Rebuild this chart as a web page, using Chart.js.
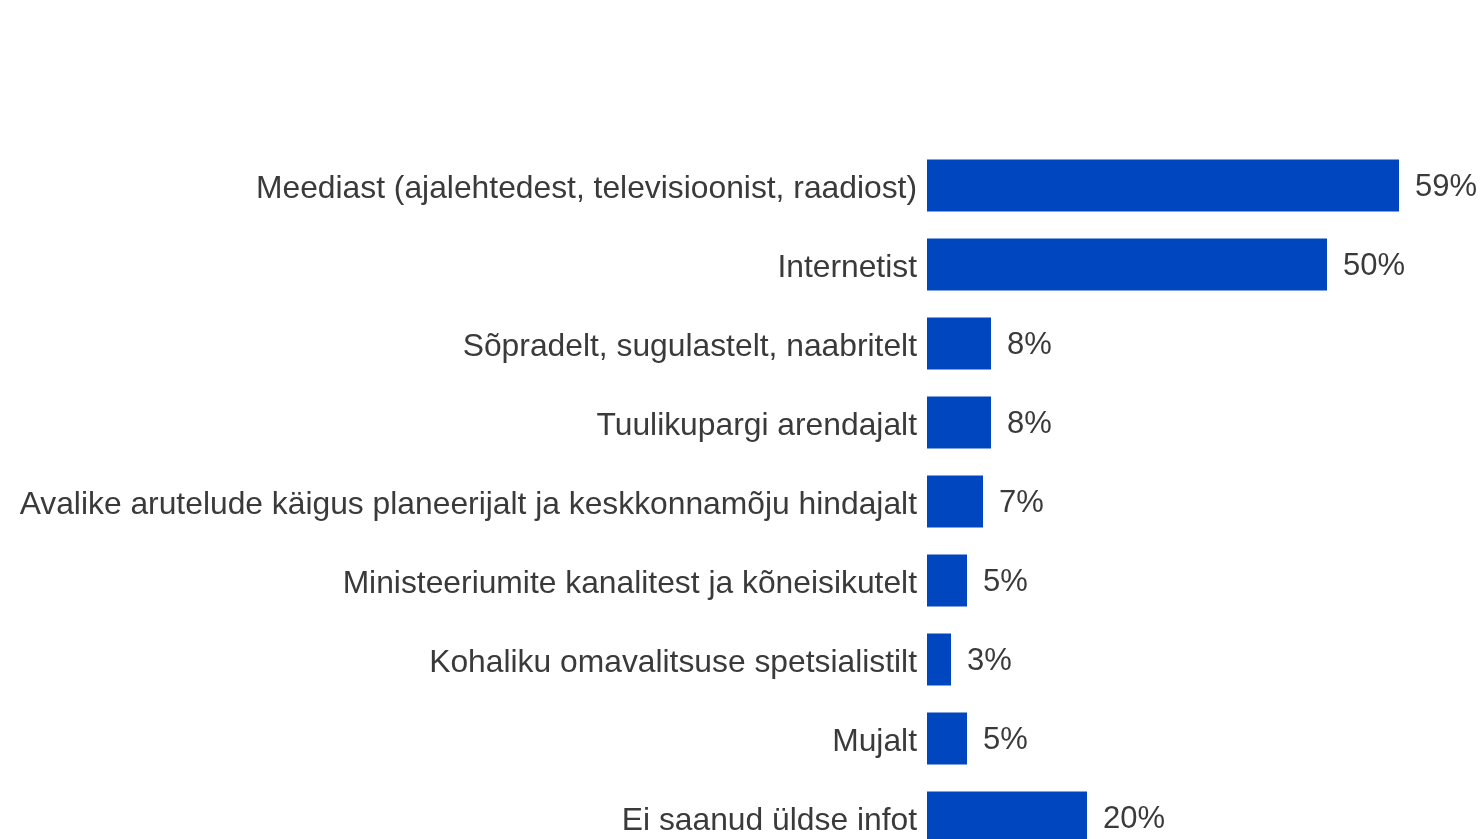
<!DOCTYPE html>
<html>
<head>
<meta charset="utf-8">
<script src="https://cdn.jsdelivr.net/npm/chart.js@4/dist/chart.umd.min.js"></script>
<style>
  html, body { margin: 0; padding: 0; background: #fff; overflow: hidden; }
  #wrap { position: absolute; left: 0; top: 0; width: 1484px; height: 880px; }
</style>
</head>
<body>
<div id="wrap"><canvas id="graficoInfoAllikad" width="1484" height="880"></canvas></div>
<script>
var kategooriad = [
	'Meediast (ajalehtedest, televisioonist, raadiost)',
	'Internetist',
	'Sõpradelt, sugulastelt, naabritelt',
	'Tuulikupargi arendajalt',
	'Avalike arutelude käigus planeerijalt ja keskkonnamõju hindajalt',
	'Ministeeriumite kanalitest ja kõneisikutelt',
	'Kohaliku omavalitsuse spetsialistilt',
	'Mujalt',
	'Ei saanud üldse infot'
];
var osakaalud = [59, 50, 8, 8, 7, 5, 3, 5, 20];

var FONT = '"Liberation Sans", Arial, sans-serif';
var TEKST = '#3a3a3a';

// kirjutab protsendi iga tulba lõppu
var vaartusedTulbal = {
	id: 'vaartusedTulbal',
	afterDatasetsDraw: function(chart) {
		var ctx = chart.ctx;
		ctx.save();
		ctx.font = '31px ' + FONT;
		ctx.fillStyle = TEKST;
		ctx.textAlign = 'left';
		ctx.textBaseline = 'middle';
		chart.getDatasetMeta(0).data.forEach(function(bar, i) {
			ctx.fillText(osakaalud[i] + '%', bar.x + 16, bar.y + 2);
		});
		ctx.restore();
	}
};

var ctx = document.getElementById('graficoInfoAllikad').getContext('2d');
var grafik = new Chart(ctx, {
	type: 'bar',
	data: {
		labels: kategooriad,
		datasets: [{
			data: osakaalud,
			backgroundColor: '#0047bf',
			barPercentage: 0.66,
			categoryPercentage: 1
		}]
	},
	options: {
		indexAxis: 'y',
		responsive: false,
		animation: false,
		layout: { padding: { top: 146, bottom: 23, left: 0, right: 37 } },
		plugins: {
			legend: { display: false },
			tooltip: { enabled: false }
		},
		scales: {
			x: { display: false, min: 0, max: 65 },
			y: {
				afterFit: function(scale) {
					scale.width = 927;
					// viimane rida võib lõuendi servast välja minna
					scale.paddingTop = 0;
					scale.paddingBottom = 0;
				},
				grid: { display: false, drawTicks: false },
				border: { display: false },
				ticks: {
					padding: 10,
					labelOffset: 4,
					color: TEKST,
					font: { family: FONT, size: 31.8 }
				}
			}
		}
	},
	plugins: [vaartusedTulbal]
});
</script>
</body>
</html>
